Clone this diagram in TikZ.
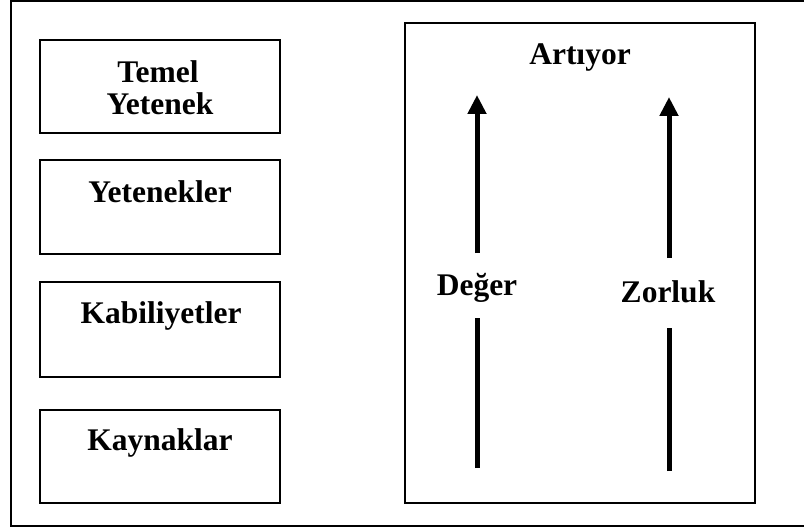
\documentclass[tikz,border=0pt]{standalone}
\usepackage{fontspec}
\setmainfont{Liberation Serif}
\usetikzlibrary{arrows.meta}
\tikzset{
  frame/.style={draw=black, line width=2pt},
  box/.style={draw=black, line width=2pt},
  lbl/.style={font=\fontsize{31.5}{32}\selectfont\bfseries, inner sep=0pt, anchor=base},
  rise/.style={line width=5pt, -{Triangle[width=18pt,length=19pt]}},
  riseline/.style={line width=5pt}
}
\begin{document}
\begin{tikzpicture}[x=1pt,y=-1pt]
  \useasboundingbox (0,0) rectangle (804,532);
  \clip (0,0) rectangle (804,532);
  % outer frame (its right edge runs off the page)
  \draw[frame] (830,1) -- (11,1) -- (11,526) -- (830,526);

  % left column of boxes
  \draw[box] (40,40) rectangle (280,133);
  \draw[box] (40,160) rectangle (280,254);
  \draw[box] (40,282) rectangle (280,377);
  \draw[box] (40,410) rectangle (280,503);
  \node[lbl] (temel) at (158,83) {Temel};
  \node[lbl] (yetenek) at (160,115) {Yetenek};
  \node[lbl] (yetenekler) at (160,203) {Yetenekler};
  \node[lbl] (kabiliyetler) at (161,323) {Kabiliyetler};
  \node[lbl] (kaynaklar) at (160,450) {Kaynaklar};

  % right box with the two rising arrows
  \draw[box] (405,23) rectangle (755,503);
  \node[lbl] (artiyor) at (580,65) {Artıyor};
  \node[lbl] (deger) at (477,295) {Değer};
  \node[lbl] (zorluk) at (668,302) {Zorluk};

  \coordinate (d0) at (477,468);
  \coordinate (d1) at (477,318);
  \coordinate (d2) at (477,253);
  \coordinate (d3) at (477,95);
  \coordinate (z0) at (669,471);
  \coordinate (z1) at (669,328);
  \coordinate (z2) at (669,258);
  \coordinate (z3) at (669,97);
  \draw[riseline] (d0) -- (d1);
  \draw[rise] (d2) -- (d3);
  \draw[riseline] (z0) -- (z1);
  \draw[rise] (z2) -- (z3);
\end{tikzpicture}
\end{document}
